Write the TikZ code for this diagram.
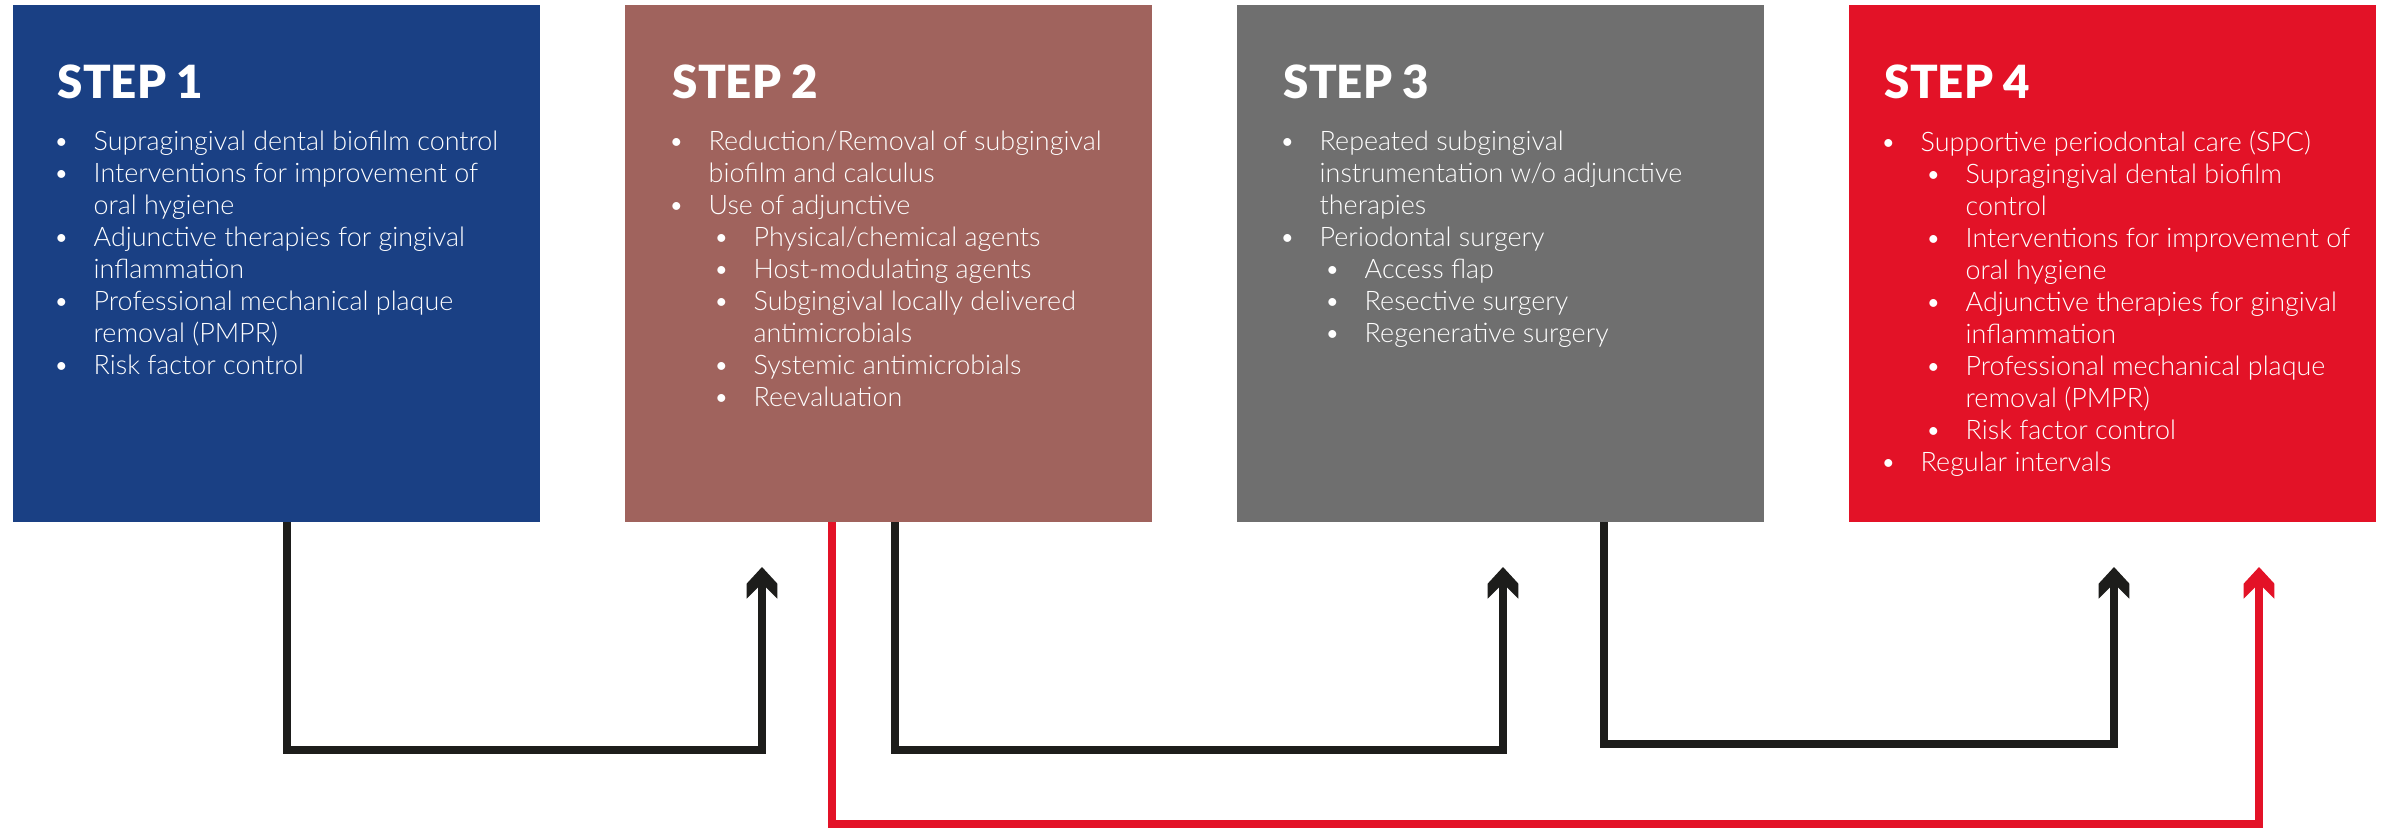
\documentclass[tikz,border=0pt]{standalone}
\usepackage{fontspec}
\setmainfont{Lato Light}
\newfontfamily\headfont{Lato Black}
\usetikzlibrary{positioning}
\definecolor{stepblue}{HTML}{1A4084}
\definecolor{stepbrown}{HTML}{A0635D}
\definecolor{stepgray}{HTML}{6F6F6F}
\definecolor{stepred}{HTML}{E31227}
\definecolor{flowblack}{HTML}{1D1D1B}
% bullets: first and second level, and the indent of a wrapped line
\newcommand{\bu}{\makebox[0.40cm][l]{\textbullet}}
\newcommand{\bub}{\hspace*{0.45cm}\makebox[0.40cm][l]{\textbullet}}
\newcommand{\ina}{\hspace*{0.40cm}}
\newcommand{\inb}{\hspace*{0.85cm}}
\begin{document}
\begin{tikzpicture}[
    stepbox/.style={rectangle, inner sep=0pt, outer sep=0pt,
      minimum width=5.27cm, minimum height=5.17cm},
    head/.style={anchor=base west, inner sep=0pt, text=white,
      font=\headfont\fontsize{13}{15}\selectfont},
    body/.style={anchor=north west, inner sep=0pt, text=white, align=left,
      font=\fontsize{7.65}{9.1}\selectfont},
    flow/.style={line width=0.08cm, color=flowblack, shorten >=0.17cm},
    chev/.pic={\fill (0,0) -- (0.153,-0.166) -- (0.153,-0.316)
      -- (0.04,-0.203) -- (-0.04,-0.203) -- (-0.153,-0.316)
      -- (-0.153,-0.166) -- cycle;}
  ]
  \useasboundingbox (0,0) rectangle (23.87,-8.27);

  \node[stepbox, fill=stepblue, anchor=north west] (s1) at (0.13,-0.05) {};
  \node[stepbox, fill=stepbrown, right=0.85cm of s1] (s2) {};
  \node[stepbox, fill=stepgray, right=0.85cm of s2] (s3) {};
  \node[stepbox, fill=stepred, right=0.85cm of s3] (s4) {};

  \node[head] (h1) at ([xshift=0.44cm,yshift=-0.93cm]s1.north west) {STEP 1};
  \node[head] (h2) at ([xshift=0.47cm,yshift=-0.93cm]s2.north west) {STEP 2};
  \node[head] (h3) at ([xshift=0.46cm,yshift=-0.93cm]s3.north west) {STEP 3};
  \node[head] (h4) at ([xshift=0.35cm,yshift=-0.93cm]s4.north west) {STEP 4};

  \node[body] (l1) at ([xshift=0.40cm,yshift=-1.25cm]s1.north west) {
    \bu Supragingival dental biofilm control\\
    \bu Interventions for improvement of\\
    \ina oral hygiene\\
    \bu Adjunctive therapies for gingival\\
    \ina inflammation\\
    \bu Professional mechanical plaque\\
    \ina removal (PMPR)\\
    \bu Risk factor control};
  \node[body] (l2) at ([xshift=0.43cm,yshift=-1.25cm]s2.north west) {
    \bu Reduction/Removal of subgingival\\
    \ina biofilm and calculus\\
    \bu Use of adjunctive\\
    \bub Physical/chemical agents\\
    \bub Host-modulating agents\\
    \bub Subgingival locally delivered\\
    \inb antimicrobials\\
    \bub Systemic antimicrobials\\
    \bub Reevaluation};
  \node[body] (l3) at ([xshift=0.42cm,yshift=-1.25cm]s3.north west) {
    \bu Repeated subgingival\\
    \ina instrumentation w/o adjunctive\\
    \ina therapies\\
    \bu Periodontal surgery\\
    \bub Access flap\\
    \bub Resective surgery\\
    \bub Regenerative surgery};
  \node[body] (l4) at ([xshift=0.31cm,yshift=-1.25cm]s4.north west) {
    \bu Supportive periodontal care (SPC)\\
    \bub Supragingival dental biofilm\\
    \inb control\\
    \bub Interventions for improvement of\\
    \inb oral hygiene\\
    \bub Adjunctive therapies for gingival\\
    \inb inflammation\\
    \bub Professional mechanical plaque\\
    \inb removal (PMPR)\\
    \bub Risk factor control\\
    \bu Regular intervals};

  % arrow ends below the boxes
  \coordinate (e2) at ([xshift=-1.265cm,yshift=-0.45cm]s2.south);
  \coordinate (e3) at ([xshift=0.025cm,yshift=-0.45cm]s3.south);
  \coordinate (e4) at ([xshift=0.015cm,yshift=-0.45cm]s4.south);
  \coordinate (r4) at ([xshift=1.465cm,yshift=-0.45cm]s4.south);

  \draw[flow] ([xshift=0.105cm]s1.south) -- ++(0,-2.28) -| (e2);
  \draw[flow] ([xshift=0.065cm]s2.south) -- ++(0,-2.28) -| (e3);
  \draw[flow] ([xshift=1.035cm]s3.south) -- ++(0,-2.22) -| (e4);
  \draw[flow, color=stepred] ([xshift=-0.565cm]s2.south) -- ++(0,-3.02) -| (r4);
  \pic[color=flowblack] at (e2) {chev};
  \pic[color=flowblack] at (e3) {chev};
  \pic[color=flowblack] at (e4) {chev};
  \pic[color=stepred] at (r4) {chev};
\end{tikzpicture}
\end{document}
